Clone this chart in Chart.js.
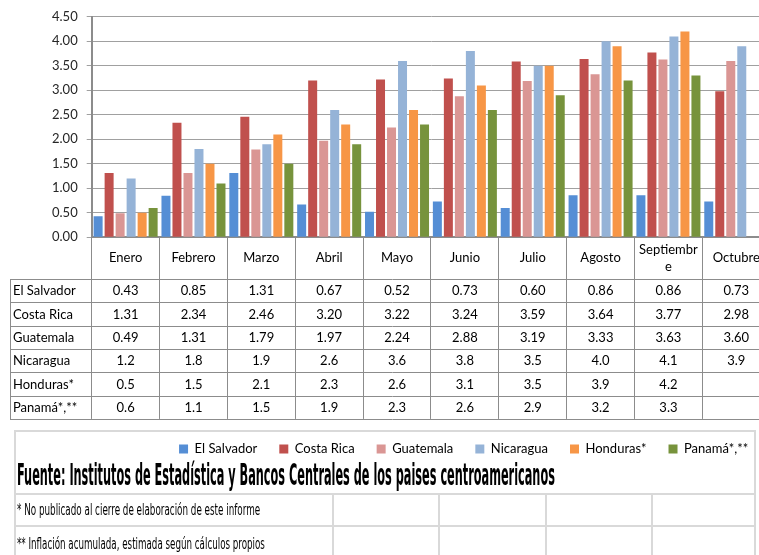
<!DOCTYPE html>
<html>
<head>
<meta charset="utf-8">
<script src="https://cdn.jsdelivr.net/npm/chart.js@4/dist/chart.umd.min.js"></script>
<style>
html,body{margin:0;padding:0;overflow:hidden;background:#fff;width:759px;height:555px;}
#wrap{position:absolute;left:0;top:0;width:775px;height:555px;}
.ln{position:absolute;background:#d9d9d9;}
.fit{position:absolute;white-space:nowrap;transform-origin:0 50%;line-height:1;font-family:"Liberation Sans Narrow","DejaVu Sans Condensed","Arial Narrow",sans-serif;color:#000;}
</style>
</head>
<body>
<div id="wrap"><canvas id="c"></canvas></div>

<div class="ln" style="left:14px;top:430px;width:742px;height:2px"></div>
<div class="ln" style="left:14px;top:430px;width:2px;height:125px"></div>
<div class="ln" style="left:754px;top:430px;width:2px;height:125px"></div>
<div class="ln" style="left:14px;top:493px;width:742px;height:2px"></div>
<div class="ln" style="left:14px;top:525px;width:742px;height:2px"></div>
<div class="ln" style="left:332px;top:493px;width:2px;height:62px"></div>
<div class="ln" style="left:438px;top:493px;width:2px;height:62px"></div>
<div class="ln" style="left:545px;top:493px;width:2px;height:62px"></div>
<div class="ln" style="left:651px;top:493px;width:2px;height:62px"></div>

<div class="fit" data-w="538" style="left:17px;top:460px;font-size:30px;font-weight:bold">Fuente: Institutos de Estadística y Bancos Centrales de los paises centroamericanos</div>
<div class="fit" data-w="243" style="left:17px;top:502px;font-size:16px">* No publicado al cierre de elaboración de este informe</div>
<div class="fit" data-w="248" style="left:17px;top:536px;font-size:16px">** Inflación acumulada, estimada según cálculos propios</div>

<script>
// ---- data ----
const categories = ['Enero','Febrero','Marzo','Abril','Mayo','Junio','Julio','Agosto','Septiembre','Octubre'];
const seriesNames = ['El Salvador','Costa Rica','Guatemala','Nicaragua','Honduras*','Panamá*,**'];
const elSalvador = [0.43,0.85,1.31,0.67,0.52,0.73,0.60,0.86,0.86,0.73];
const costaRica  = [1.31,2.34,2.46,3.20,3.22,3.24,3.59,3.64,3.77,2.98];
const guatemala  = [0.49,1.31,1.79,1.97,2.24,2.88,3.19,3.33,3.63,3.60];
const nicaragua  = [1.2,1.8,1.9,2.6,3.6,3.8,3.5,4.0,4.1,3.9];
const honduras   = [0.5,1.5,2.1,2.3,2.6,3.1,3.5,3.9,4.2,null];
const panama     = [0.6,1.1,1.5,1.9,2.3,2.6,2.9,3.2,3.3,null];
const tableDecimals = [2,2,2,1,1,1];
const yMin = 0, yMax = 4.5, yStep = 0.5;

const seriesValues = [elSalvador,costaRica,guatemala,nicaragua,honduras,panama];
const seriesColors = ['#558ED5','#C0504D','#DA9694','#95B3D7','#F79646','#77933C'];

// ---- layout constants ----
const CAT_ROW_H = 41.7;
const ROW_H = 23.32;
const TABLE_LEFT = 10;
const TABLE_H = CAT_ROW_H + 6*ROW_H;

Chart.defaults.font.family = 'Lato';
Chart.defaults.font.size = 13;
Chart.defaults.color = '#000';

const tablePlugin = {
  id: 'dataTable',
  afterDraw(chart){
    const {ctx, chartArea, scales:{x}} = chart;
    const top = chartArea.bottom + CAT_ROW_H;
    const right = chart.width;
    ctx.save();
    ctx.strokeStyle = '#8c8c8c';
    ctx.lineWidth = 1;
    ctx.beginPath();
    for (let r=0;r<=seriesValues.length;r++){
      const y = Math.round(top + r*ROW_H) + 0.5;
      ctx.moveTo(TABLE_LEFT, y); ctx.lineTo(right, y);
    }
    ctx.moveTo(TABLE_LEFT+0.5, Math.round(top)+0.5);
    ctx.lineTo(TABLE_LEFT+0.5, Math.round(top+seriesValues.length*ROW_H)+0.5);
    ctx.stroke();
    ctx.font = '13px Lato';
    ctx.fillStyle = '#000';
    ctx.textBaseline = 'middle';
    chart.data.datasets.forEach((ds,r)=>{
      const yc = top + (r+0.5)*ROW_H + 0.5;
      ctx.textAlign = 'left';
      ctx.fillText(ds.label, TABLE_LEFT+3, yc);
      ctx.textAlign = 'center';
      ds.data.forEach((v,i)=>{
        if (v === null || v === undefined) return;
        ctx.fillText(v.toFixed(tableDecimals[r]), x.getPixelForValue(i), yc);
      });
    });
    ctx.restore();
  }
};

function wrapLabel(s){
  return s.length > 9 ? [s.slice(0,9), s.slice(9)] : s;
}

new Chart(document.getElementById('c'), {
  type: 'bar',
  data: {
    labels: categories,
    datasets: seriesNames.map((n,i)=>({
      label: n,
      data: seriesValues[i],
      backgroundColor: seriesColors[i],
      borderWidth: 0,
      categoryPercentage: 0.973,
      barPercentage: 0.818
    }))
  },
  options: {
    responsive: true,
    maintainAspectRatio: false,
    animation: false,
    layout: { padding: { top: 15.2, right: 4.8, bottom: 89.5, left: 0 } },
    plugins: {
      tooltip: { enabled: false },
      legend: {
        position: 'bottom',
        align: 'end',
        labels: { boxWidth: 9, boxHeight: 9, padding: 22, font: { size: 13 }, color: '#000' }
      }
    },
    scales: {
      x: {
        grid: { offset: true, drawOnChartArea: false, drawTicks: true, tickLength: TABLE_H, color: '#8c8c8c', lineWidth: 1 },
        border: { display: true, color: '#8c8c8c', width: 2 },
        ticks: {
          autoSkip: false, maxRotation: 0, minRotation: 0,
          crossAlign: 'center',
          padding: 12.3 - TABLE_H,
          font: { size: 13, lineHeight: 1.34 },
          color: '#000',
          callback: function(v, i){ return wrapLabel(categories[i]); }
        },
        afterFit(s){ s.height = 183.2; }
      },
      y: {
        min: yMin, max: yMax,
        grid: { color: '#a0a0a0', lineWidth: 1, drawTicks: true, tickLength: 5 },
        border: { display: true, color: '#8c8c8c', width: 2 },
        ticks: { stepSize: yStep, padding: 9, color: '#262626', font: { size: 13 },
          callback: v => Number(v).toFixed(2) },
        afterFit(s){ s.width = 91.7; }
      }
    }
  },
  plugins: [tablePlugin]
});

function fitTexts(){
  document.querySelectorAll('.fit').forEach(el=>{
    el.style.transform = 'none';
    const w = el.scrollWidth;
    if (w > 0) el.style.transform = 'scaleX(' + (parseFloat(el.dataset.w)/w) + ')';
  });
}
fitTexts();
if (document.fonts && document.fonts.ready) document.fonts.ready.then(fitTexts);
</script>
</body>
</html>
